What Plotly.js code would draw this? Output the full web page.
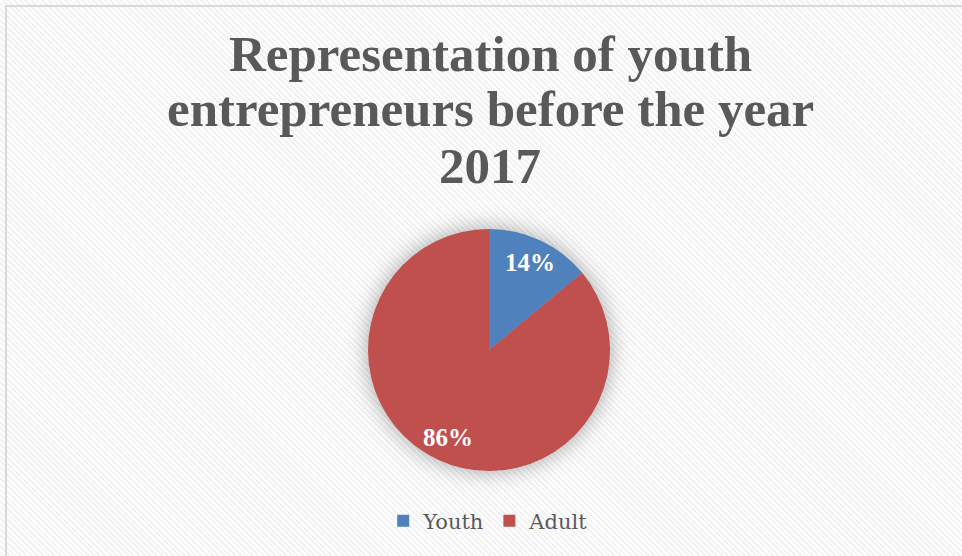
<!DOCTYPE html>
<html>
<head>
<meta charset="utf-8">
<script src="https://cdn.plot.ly/plotly-3.0.1.min.js"></script>
<style>
  html, body { margin: 0; padding: 0; background: #ffffff; }
  #frame {
    position: absolute; left: 0; top: 0; width: 962px; height: 556px;
    background: repeating-linear-gradient(45deg, #ffffff 0px, #ffffff 2px, #f2f2f2 2px, #f2f2f2 4px);
  }
  #border {
    position: absolute; left: 5px; top: 5px; width: 970px; height: 560px;
    border: 2px solid #d9d9d9; box-sizing: border-box; pointer-events: none;
  }
  #chart { position: absolute; left: 0; top: 0; width: 962px; height: 556px; }
  .pielayer .trace { filter: drop-shadow(0px 0px 11px rgba(0,0,0,0.35)); }
</style>
</head>
<body>
<div id="frame"></div>
<div id="border"></div>
<div id="chart"></div>
<script>
// Share of entrepreneurs by age group before 2017
const categories = ["Youth", "Adult"];
const shares = [14, 86];
const sliceColors = ["#4F81BD", "#C0504D"];

const titleLines = ["Representation of youth", "entrepreneurs before the year", "2017"];

const W = 962, H = 556;
const cx = 489, cy = 350, r = 121;

// Title lines, baseline-to-baseline spacing of about 56px
const titleBaselines = [73, 128, 185];
const annotations = titleLines.map((line, i) => ({
  text: line,
  xref: "paper", yref: "paper",
  x: 490 / W, xanchor: "center",
  y: 1 - (titleBaselines[i] + 11) / H, yanchor: "bottom",
  showarrow: false,
  font: { family: "Liberation Serif", size: 51, color: "#595959", weight: "bold" }
}));

// Percentage labels placed along each slice's mid-angle
const total = shares.reduce((a, b) => a + b, 0);
let cum = 0;
shares.forEach((v) => {
  const mid = (cum + v / 2) / total * 2 * Math.PI;
  cum += v;
  const px = cx + 0.8 * r * Math.sin(mid);
  const py = cy - 0.8 * r * Math.cos(mid);
  annotations.push({
    text: Math.round(v / total * 100) + "%",
    xref: "paper", yref: "paper",
    x: px / W, y: 1 - py / H,
    xanchor: "center", yanchor: "middle",
    showarrow: false,
    font: { family: "Liberation Serif", size: 25, color: "#ffffff", weight: "bold" }
  });
});

const data = [{
  type: "pie",
  labels: categories,
  values: shares,
  sort: false,
  direction: "clockwise",
  rotation: 0,
  marker: { colors: sliceColors, line: { color: "#ffffff", width: 0 } },
  textinfo: "none",
  hoverinfo: "label+percent",
  domain: {
    x: [(cx - r) / W, (cx + r) / W],
    y: [(H - cy - r) / H, (H - cy + r) / H]
  }
}];

const layout = {
  width: W, height: H,
  paper_bgcolor: "rgba(0,0,0,0)",
  plot_bgcolor: "rgba(0,0,0,0)",
  margin: { l: 0, r: 0, t: 0, b: 0 },
  annotations: annotations,
  showlegend: true,
  legend: {
    orientation: "h",
    x: 0.508, xanchor: "center",
    y: (H - 521) / H, yanchor: "middle",
    font: { family: "DejaVu Serif", size: 21, color: "#595959" },
    itemwidth: 30
  }
};

Plotly.newPlot("chart", data, layout, { displayModeBar: false, staticPlot: true });
</script>
</body>
</html>
